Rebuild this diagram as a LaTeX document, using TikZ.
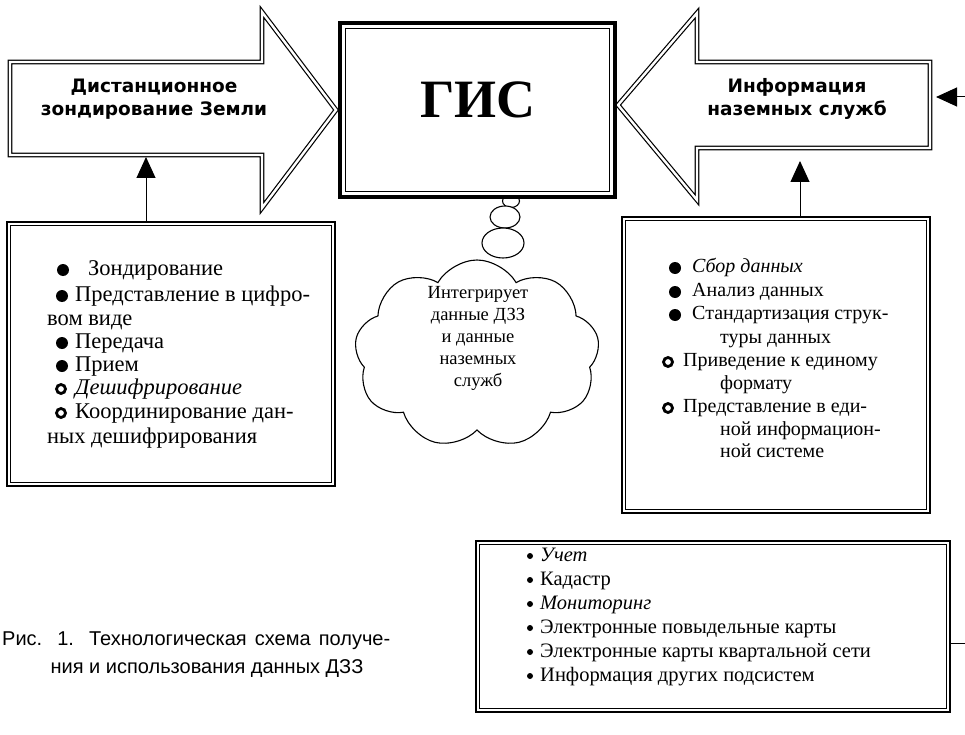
\documentclass[tikz,border=0pt]{standalone}
\usepackage{fontspec}
\setmainfont{Liberation Serif}
\newfontfamily\arrowfont{DejaVu Sans}
\newfontfamily\capfont{Liberation Sans}
\usetikzlibrary{shapes.symbols,shapes.geometric,arrows.meta,calc}
\tikzset{
  arrowshape/.style={draw, line width=1.2pt, double, double distance=2.4pt, line join=miter, fill=white},
  arrowtext/.style={font=\arrowfont\bfseries\fontsize{18.5}{23.5}\selectfont, align=center, inner sep=0},
  outerbox/.style={draw, line width=2.4pt, inner sep=0, fill=white},
  innerline/.style={draw, line width=0.9pt},
  itl/.style={anchor=base west, inner sep=0, font=\fontsize{22.5}{27}\selectfont},
  itr/.style={anchor=base west, inner sep=0, font=\fontsize{20}{24}\selectfont},
  itb/.style={anchor=base west, inner sep=0, font=\fontsize{20.5}{25}\selectfont},
  captext/.style={inner sep=0, font=\capfont\fontsize{20}{28}\selectfont},
  dotb/.style={circle, fill, inner sep=0, minimum size=12pt},
  ringb/.style={circle, draw, line width=2.8pt, inner sep=0, minimum size=9pt},
  smalldot/.style={circle, fill, inner sep=0, minimum size=6pt},
  conn/.style={line width=1pt, -{Triangle[length=21pt,width=19pt]}},
  bubble/.style={ellipse, draw, line width=1.1pt, inner sep=0, fill=white},
}
\begin{document}
\begin{tikzpicture}[x=1pt,y=-1pt]
\useasboundingbox (0,0) rectangle (965,735);
\fill[white] (0,0) rectangle (965,735);

% left big arrow
\draw[arrowshape] (10,62) -- (262,62) -- (262,12) -- (336,110) -- (262,208) -- (262,155) -- (10,155) -- cycle;
\node[arrowtext] (ltxt) at (154,99) {Дистанционное\\зондирование Земли};
\coordinate (lshaftS) at (146,155);

% right big arrow
\draw[arrowshape] (618,105) -- (697,13) -- (697,62) -- (930,62) -- (930,148) -- (697,148) -- (697,200) -- cycle;
\node[arrowtext] (rtxt) at (797,99) {Информация\\наземных служб};
\coordinate (rshaftS) at (800,148);
\coordinate (rshaftE) at (930,97);
\coordinate (rin) at (968,97);
\draw[conn] (rin) -- ([xshift=6pt]rshaftE);

% thought bubbles
\node[bubble, minimum width=17pt, minimum height=13pt] (b1) at (511,201) {};
\node[bubble, minimum width=30pt, minimum height=22pt] (b2) at (505,217) {};
\node[bubble, minimum width=42pt, minimum height=30pt] (b3) at (503,243) {};

% GIS box
\node[draw, line width=4.5pt, fill=white, minimum width=275pt, minimum height=174pt, inner sep=0] (gis) at (477.5,110) {};
\draw[innerline] ([shift={(8,8)}]gis.north west) rectangle ([shift={(-8,-8)}]gis.south east);
\node[font=\bfseries\fontsize{54}{60}\selectfont, inner sep=0] (gist) at (478,100) {ГИС};

% cloud
\node[cloud, draw, line width=1.1pt, cloud puffs=9, cloud puff arc=120, aspect=1.3, minimum width=245pt, minimum height=188pt, inner sep=0] (cloud) at (477,354) {};
\node[align=center, inner sep=0, font=\fontsize{18.5}{22}\selectfont] (ctext) at (478,338) {Интегрирует\\данные ДЗЗ\\и данные\\наземных\\служб};

% left box
\node[outerbox, minimum width=328pt, minimum height=264pt] (lbox) at (171,354) {};
\draw[innerline] ([shift={(5,5)}]lbox.north west) rectangle ([shift={(-5,-5)}]lbox.south east);
\draw[conn, shorten >=2pt] (lbox.north -| lshaftS) -- (lshaftS);
\node[dotb] (l1b) at (63,270) {}; \node[itl] (l1) at (88,275) {Зондирование};
\node[dotb] (l2b) at (62,296) {}; \node[itl] (l2) at (75,301) {Представление в цифро-};
\node[itl] (l3) at (47,325) {вом виде};
\node[dotb] (l4b) at (62,343) {}; \node[itl] (l4) at (75,348) {Передача};
\node[dotb] (l5b) at (62,366) {}; \node[itl] (l5) at (75,371) {Прием};
\node[ringb] (l6b) at (61,389) {}; \node[itl] (l6) at (75,394) {\itshape Дешифрирование};
\node[ringb] (l7b) at (61,413) {}; \node[itl] (l7) at (75,418) {Координирование дан-};
\node[itl] (l8) at (47,443) {ных дешифрирования};

% right box
\node[outerbox, minimum width=308pt, minimum height=296pt] (rbox) at (776,365) {};
\draw[innerline] ([shift={(5,5)}]rbox.north west) rectangle ([shift={(-5,-5)}]rbox.south east);
\draw[conn, shorten >=13pt] (rbox.north -| rshaftS) -- (rshaftS);
\node[dotb] (r1b) at (675,268) {}; \node[itr] (r1) at (692,272.5) {\itshape Сбор данных};
\node[dotb] (r2b) at (675,292) {}; \node[itr] (r2) at (692,296.5) {Анализ данных};
\node[dotb] (r3b) at (675,315) {}; \node[itr] (r3) at (692,319.5) {Стандартизация струк-};
\node[itr] (r4) at (720,343.5) {туры данных};
\node[ringb] (r5b) at (668,362) {}; \node[itr] (r5) at (683,366.5) {Приведение к единому};
\node[itr] (r6) at (720,389.5) {формату};
\node[ringb] (r7b) at (668,408) {}; \node[itr] (r7) at (683,412.5) {Представление в еди-};
\node[itr] (r8) at (720,435.5) {ной информацион-};
\node[itr] (r9) at (720,457.5) {ной системе};

% bottom box
\node[outerbox, minimum width=474pt, minimum height=171pt] (bbox) at (713,626.5) {};
\draw[innerline] ([shift={(5,5)}]bbox.north west) rectangle ([shift={(-5,-5)}]bbox.south east);
\coordinate (bout) at (968,643);
\draw[line width=1pt] (bbox.east |- bout) -- (bout);
\node[smalldot] (s1b) at (530,556) {}; \node[itb] (s1) at (540,561) {\itshape Учет};
\node[smalldot] (s2b) at (530,580) {}; \node[itb] (s2) at (540,585) {Кадастр};
\node[smalldot] (s3b) at (530,604) {}; \node[itb] (s3) at (540,609) {\itshape Мониторинг};
\node[smalldot] (s4b) at (530,628) {}; \node[itb] (s4) at (540,633) {Электронные повыдельные карты};
\node[smalldot] (s5b) at (530,652) {}; \node[itb] (s5) at (540,657) {Электронные карты квартальной сети};
\node[smalldot] (s6b) at (530,676) {}; \node[itb] (s6) at (540,681) {Информация других подсистем};

% caption
\node[captext, anchor=base west] (cap1) at (2,645) {\makebox[388pt][s]{Рис. 1. Технологическая схема получе-}};
\node[captext, anchor=base] (cap2) at (207,673) {ния и использования данных ДЗЗ};
\end{tikzpicture}
\end{document}
